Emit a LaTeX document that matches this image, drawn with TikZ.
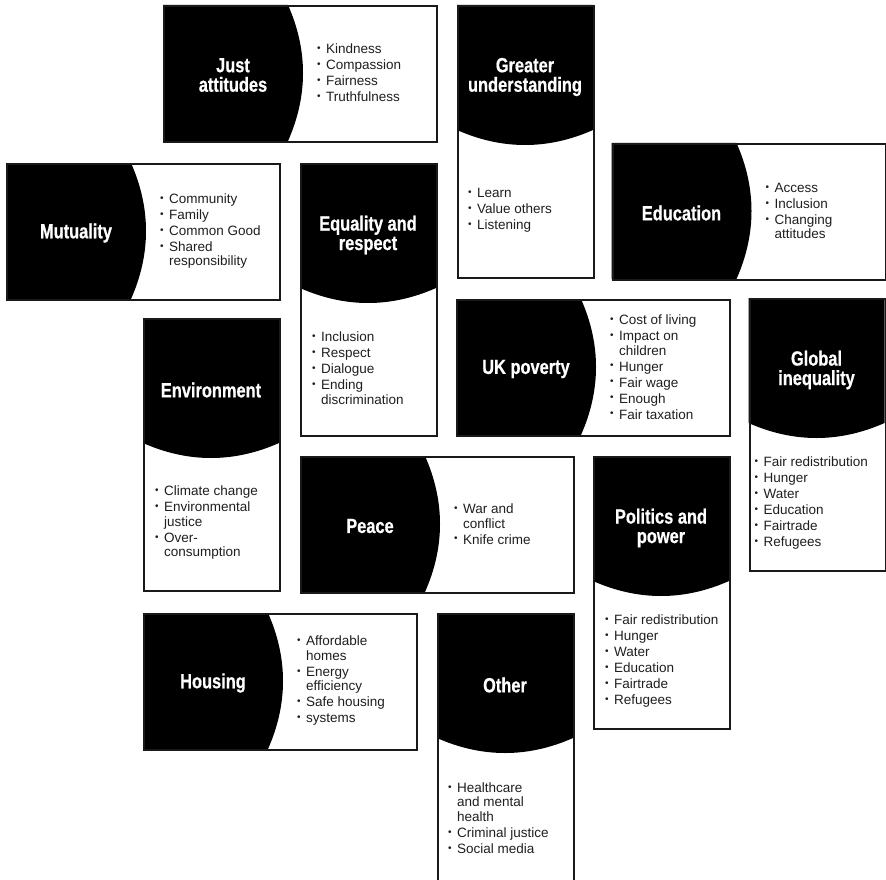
\documentclass[tikz,border=0pt]{standalone}
\usepackage{fontspec}
\setmainfont{Liberation Sans}
\newfontfamily\titlefont{Liberation Sans}[FakeStretch=0.8, BoldFeatures={FakeBold=0.6}]
\newcommand\bul{\makebox[9pt][l]{\raisebox{0.3ex}{\fontsize{10}{10}\selectfont •}}}
\newcommand\wrp{\hspace*{9pt}}
\tikzset{
  cardbox/.style={draw=black!90, line width=2.2pt, anchor=north west, inner sep=0pt},
  titletext/.style={text=white, font=\titlefont\bfseries\fontsize{20.5}{19.5}\selectfont, align=center, inner sep=0pt},
  itemtext/.style={text=black!88, font=\fontsize{13.5}{14.5}\selectfont, align=left, inner sep=0pt, anchor=west},
}
% horizontal card: name, x, y, title, items
\newcommand\hcard[5]{%
  \fill[black] (#2,#3) -- (#2+125,#3) .. controls (#2+145,#3+45) and (#2+145,#3+91) .. (#2+125,#3+136) -- (#2,#3+136) -- cycle;
  \node[cardbox, minimum width=273pt, minimum height=136pt] (#1) at (#2,#3) {};
  \node[titletext] (#1-t) at (#2+70,#3+70) {#4};
  \node[itemtext] (#1-i) at (#2+154,#3+68) {#5};
}
% vertical card: name, x, y, title, items, item offset
\newcommand\vcard[6]{%
  \fill[black] (#2,#3) -- (#2+136,#3) -- (#2+136,#3+125) .. controls (#2+91,#3+145) and (#2+45,#3+145) .. (#2,#3+125) -- cycle;
  \node[cardbox, minimum width=136pt, minimum height=272pt] (#1) at (#2,#3) {};
  \node[titletext] (#1-t) at (#2+68,#3+72) {#4};
  \node[itemtext] (#1-i) at (#2+#6,#3+205) {#5};
}
\begin{document}
\begin{tikzpicture}[x=1pt,y=-1pt]
\useasboundingbox[fill=white] (0,0) rectangle (886,880);

\hcard{ja}{163}{5}{Just\\attitudes}{\bul Kindness\\[1.5pt]\bul Compassion\\[1.5pt]\bul Fairness\\[1.5pt]\bul Truthfulness}
\hcard{mu}{6}{163}{Mutuality}{\bul Community\\[1.5pt]\bul Family\\[1.5pt]\bul Common Good\\[1.5pt]\bul Shared\\\wrp responsibility}
\hcard{ed}{611.5}{143}{Education}{\bul Access\\[1.5pt]\bul Inclusion\\[1.5pt]\bul Changing\\\wrp attitudes}
\hcard{uk}{456}{299}{UK poverty}{\bul Cost of living\\[1.5pt]\bul Impact on\\\wrp children\\[1.5pt]\bul Hunger\\[1.5pt]\bul Fair wage\\[1.5pt]\bul Enough\\[1.5pt]\bul Fair taxation}
\hcard{pe}{300}{456}{Peace}{\bul War and\\\wrp conflict\\[1.5pt]\bul Knife crime}
\hcard{ho}{143}{613}{Housing}{\bul Affordable\\\wrp homes\\[1.5pt]\bul Energy\\\wrp efficiency\\[1.5pt]\bul Safe housing\\[1.5pt]\bul systems}

\vcard{gu}{457}{5}{Greater\\understanding}{\bul Learn\\[1.5pt]\bul Value others\\[1.5pt]\bul Listening}{11}
\vcard{eq}{300}{163}{Equality and\\respect}{\bul Inclusion\\[1.5pt]\bul Respect\\[1.5pt]\bul Dialogue\\[1.5pt]\bul Ending\\\wrp discrimination}{12}
\vcard{en}{143}{318}{Environment}{\bul Climate change\\[1.5pt]\bul Environmental\\\wrp justice\\[1.5pt]\bul Over-\\\wrp consumption}{12}
\vcard{gi}{748.5}{298}{Global\\inequality}{\bul Fair redistribution\\[1.5pt]\bul Hunger\\[1.5pt]\bul Water\\[1.5pt]\bul Education\\[1.5pt]\bul Fairtrade\\[1.5pt]\bul Refugees}{6}
\vcard{pp}{593}{456}{Politics and\\power}{\bul Fair redistribution\\[1.5pt]\bul Hunger\\[1.5pt]\bul Water\\[1.5pt]\bul Education\\[1.5pt]\bul Fairtrade\\[1.5pt]\bul Refugees}{12}
\vcard{ot}{437}{613}{Other}{\bul Healthcare\\\wrp and mental\\\wrp health\\[1.5pt]\bul Criminal justice\\[1.5pt]\bul Social media}{11}
\end{tikzpicture}
\end{document}
